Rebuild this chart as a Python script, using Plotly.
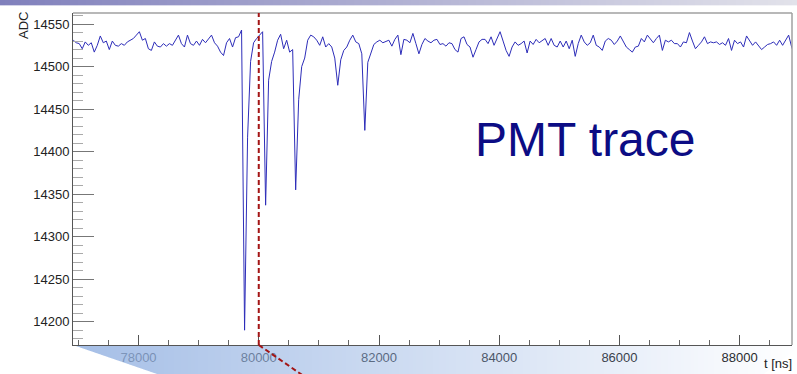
import base64
import struct
import zlib

import numpy as np
import plotly.graph_objects as go

# ---------------------------------------------------------------------------
# Digitised PMT waveform: one ADC sample every DT ns starting at T0
# ---------------------------------------------------------------------------
T0 = 76914
DT = 50
adc = [
    14531, 14528, 14527, 14521, 14529, 14525, 14528, 14517, 14525, 14536,
    14528, 14530, 14520, 14530, 14525, 14524, 14527, 14525, 14529, 14531,
    14533, 14537, 14541, 14531, 14533, 14521, 14519, 14529, 14524, 14523,
    14527, 14524, 14527, 14525, 14531, 14537, 14527, 14523, 14537, 14527,
    14525, 14530, 14525, 14532, 14528, 14532, 14537, 14528, 14524, 14517,
    14513, 14528, 14533, 14523, 14534, 14535, 14543, 14190, 14417, 14506,
    14528, 14533, 14537, 14541, 14337, 14484, 14506, 14517, 14531, 14538,
    14521, 14531, 14517, 14520, 14355, 14461, 14500, 14510, 14531, 14537,
    14535, 14531, 14525, 14535, 14523, 14527, 14523, 14510, 14478, 14508,
    14519, 14523, 14531, 14537, 14529, 14527, 14515, 14425, 14505, 14517,
    14526, 14529, 14531, 14528, 14530, 14531, 14524, 14532, 14537, 14514,
    14532, 14531, 14528, 14539, 14527, 14515, 14526, 14533, 14530, 14528,
    14531, 14532, 14526, 14527, 14524, 14528, 14527, 14520, 14517, 14533,
    14535, 14526, 14523, 14511, 14520, 14529, 14532, 14532, 14527, 14535,
    14525, 14534, 14541, 14530, 14519, 14512, 14523, 14529, 14525, 14527,
    14530, 14516, 14530, 14526, 14532, 14528, 14530, 14533, 14525, 14533,
    14525, 14523, 14530, 14523, 14530, 14521, 14531, 14512, 14527, 14537,
    14529, 14525, 14528, 14537, 14525, 14523, 14519, 14530, 14533, 14531,
    14526, 14530, 14536, 14529, 14523, 14520, 14517, 14523, 14524, 14533,
    14529, 14537, 14532, 14528, 14533, 14537, 14519, 14531, 14529, 14531,
    14527, 14527, 14523, 14529, 14528, 14540, 14530, 14521, 14525, 14529,
    14535, 14527, 14529, 14528, 14529, 14526, 14528, 14525, 14533, 14519,
    14531, 14527, 14529, 14523, 14536, 14531, 14525, 14529, 14524, 14520,
    14523, 14526, 14527, 14529, 14525, 14531, 14525, 14531, 14537, 14523,
    14513,
]
t_ns = T0 + DT * np.arange(len(adc))

# trigger time marked by the dashed line
T_TRIGGER = 80000

X_RANGE = [76910, 88870]
Y_RANGE = [14172.6, 14563]

# ---------------------------------------------------------------------------
# Canvas geometry (pixels)
# ---------------------------------------------------------------------------
W, H = 797, 374
ML, MR, MT, MB = 73, 5, 13, 29
PW, PH = W - ML - MR, H - MT - MB


def px(x):
    return (x - ML) / PW


def py(y):
    return (H - MB - y) / PH


# ---------------------------------------------------------------------------
# Slide decorations (top banner + zoom callout wedge) as a transparent PNG
# ---------------------------------------------------------------------------
def make_decor():
    img = np.zeros((H, W, 4), dtype=float)
    f = np.arange(W) / (W - 1)
    c_left = np.array([128, 128, 188])
    c_right = np.array([226, 226, 234])
    bar = c_left[None, :] * (1 - f[:, None]) + c_right[None, :] * f[:, None]
    img[0:5, :, :3] = bar
    img[0:5, :, 3] = 255
    img[5, :, :3] = bar
    img[5, :, 3] = 90

    ss = 4
    yy = (np.arange(H * ss) + 0.5) / ss
    xx = (np.arange(W * ss) + 0.5) / ss
    Y, X = np.meshgrid(yy, xx, indexing="ij")
    inside = (Y >= 346) & (X >= 73 + (Y - 345) * 84 / 29) & (X <= 799 - (Y - 347) * 35 / 27)
    cov = inside.reshape(H, ss, W, ss).mean(axis=(1, 3))
    xs = np.arange(W) + 0.5
    a_x = 0.85 * np.clip((800 - xs) / (800 - 73), 0, 1)
    a = cov * a_x[None, :]
    mask = a > 0
    img[mask, 0] = 149
    img[mask, 1] = 179
    img[mask, 2] = 226
    img[mask, 3] = a[mask] * 255

    arr = np.clip(np.round(img), 0, 255).astype(np.uint8)
    raw = b"".join(b"\x00" + arr[i].tobytes() for i in range(H))

    def chunk(tag, data):
        return (struct.pack(">I", len(data)) + tag + data
                + struct.pack(">I", zlib.crc32(tag + data) & 0xFFFFFFFF))

    png = (b"\x89PNG\r\n\x1a\n"
           + chunk(b"IHDR", struct.pack(">IIBBBBB", W, H, 8, 6, 0, 0, 0))
           + chunk(b"IDAT", zlib.compress(raw, 9))
           + chunk(b"IEND", b""))
    return "data:image/png;base64," + base64.b64encode(png).decode()


FONT = "Liberation Sans, Arial, sans-serif"

fig = go.Figure()
fig.add_trace(go.Scatter(
    x=t_ns, y=adc, mode="lines",
    line=dict(color="rgb(45,45,185)", width=1),
    hoverinfo="skip", showlegend=False,
))

fig.update_layout(
    width=W, height=H,
    margin=dict(l=ML, r=MR, t=MT, b=MB, pad=0),
    paper_bgcolor="white", plot_bgcolor="white",
    font=dict(family=FONT, size=13, color="#222"),
    xaxis=dict(
        range=X_RANGE, showgrid=False, zeroline=False,
        showline=True, linecolor="#555", linewidth=1,
        ticks="inside", ticklen=10, tickcolor="#555", tickwidth=1,
        dtick=2000, tick0=0, tickformat="d",
        tickfont=dict(family=FONT, size=13, color="#222"),
        minor=dict(dtick=500, tick0=0, ticks="inside", ticklen=5, tickcolor="#666"),
    ),
    yaxis=dict(
        range=Y_RANGE, showgrid=False, zeroline=False,
        showline=True, linecolor="#555", linewidth=1,
        ticks="inside", ticklen=21, tickcolor="#777", tickwidth=1,
        dtick=50, tick0=0, tickformat="d",
        tickfont=dict(family=FONT, size=13, color="#222"),
        minor=dict(dtick=10, tick0=0, ticks="inside", ticklen=10, tickcolor="#aaa"),
    ),
)

# frame (top + right)
fig.add_shape(type="line", xref="paper", yref="paper", x0=0, x1=1, y0=1, y1=1,
              line=dict(color="#a0a0a0", width=1.5))
fig.add_shape(type="line", xref="paper", yref="paper", x0=1, x1=1, y0=0, y1=1,
              line=dict(color="#a0a0a0", width=1.5))

# trigger marker and its continuation into the zoom wedge
DASH = "5px,3px"
fig.add_shape(type="line", xref="x", yref="paper", x0=T_TRIGGER, x1=T_TRIGGER, y0=0, y1=1,
              line=dict(color="#a31515", width=2, dash=DASH), layer="above")
x_trig_px = ML + (T_TRIGGER - X_RANGE[0]) / (X_RANGE[1] - X_RANGE[0]) * PW
fig.add_shape(type="line", xref="paper", yref="paper",
              x0=px(x_trig_px), y0=0,
              x1=px(x_trig_px + 42 * 45 / 29), y1=py(H - MB + 45),
              line=dict(color="#a31515", width=2, dash=DASH), layer="above")

fig.add_layout_image(dict(
    source=make_decor(), xref="paper", yref="paper",
    x=px(0), y=py(0), sizex=W / PW, sizey=H / PH,
    xanchor="left", yanchor="top", sizing="stretch", layer="above",
))

fig.add_annotation(text="ADC", xref="paper", yref="paper", x=px(23), y=py(26),
                   textangle=-90, showarrow=False, xanchor="center", yanchor="middle",
                   font=dict(family=FONT, size=13, color="#222"))
fig.add_annotation(text="t [ns]", xref="paper", yref="paper", x=px(794), y=py(373),
                   showarrow=False, xanchor="right", yanchor="bottom",
                   font=dict(family=FONT, size=13, color="#222"))
fig.add_annotation(text="PMT trace", xref="paper", yref="paper", x=px(585), y=py(139),
                   showarrow=False, xanchor="center", yanchor="middle",
                   font=dict(family=FONT, size=48, color="#0c0c84"))

fig.write_html("out.html")
